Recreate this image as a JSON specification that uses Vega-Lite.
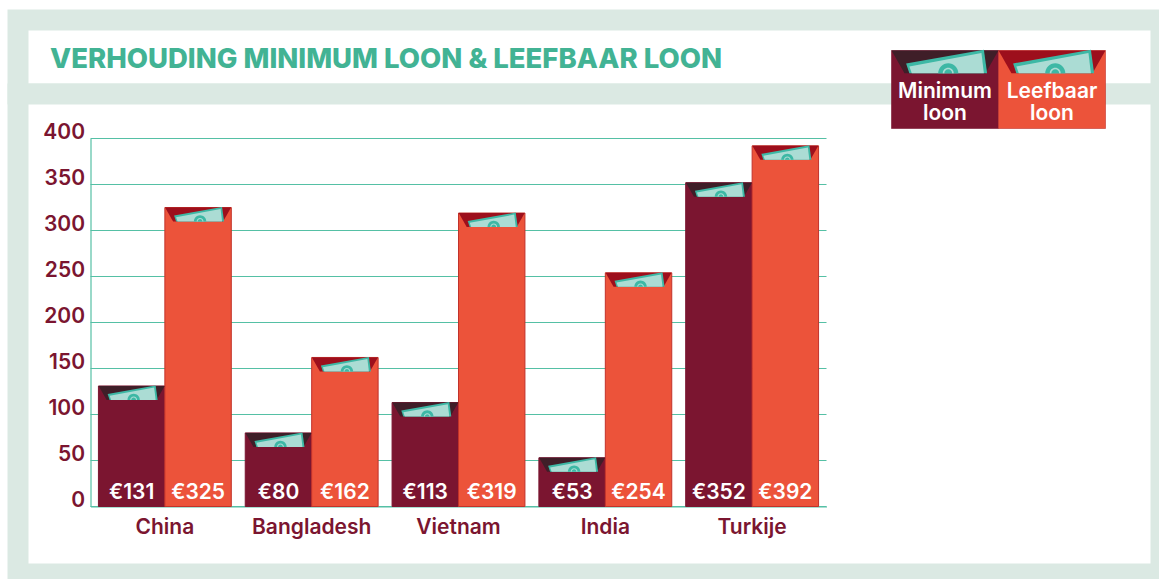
{
"$schema":"https://vega.github.io/schema/vega-lite/v6.json",
"background":"white",
"padding":{"left":7,"top":9,"right":0,"bottom":0},
"bounds":"flush",
"spacing":0,
"config":{"font":"Inter","axis":{"labelFont":"Inter"}},
"datasets":{
 "bars":[
  {"country":"China","series":"Minimum loon","value":131,"label":"€131"},
  {"country":"China","series":"Leefbaar loon","value":325,"label":"€325"},
  {"country":"Bangladesh","series":"Minimum loon","value":80,"label":"€80"},
  {"country":"Bangladesh","series":"Leefbaar loon","value":162,"label":"€162"},
  {"country":"Vietnam","series":"Minimum loon","value":113,"label":"€113"},
  {"country":"Vietnam","series":"Leefbaar loon","value":319,"label":"€319"},
  {"country":"India","series":"Minimum loon","value":53,"label":"€53"},
  {"country":"India","series":"Leefbaar loon","value":254,"label":"€254"},
  {"country":"Turkije","series":"Minimum loon","value":352,"label":"€352"},
  {"country":"Turkije","series":"Leefbaar loon","value":392,"label":"€392"}
 ],
 "grid":[{"tick":0},{"tick":50},{"tick":100},{"tick":150},{"tick":200},{"tick":250},{"tick":300},{"tick":350},{"tick":400}],
 "legend":[{"series":"Minimum loon","text":"Minimum\nloon"},{"series":"Leefbaar loon","text":"Leefbaar\nloon"}]
},
"vconcat":[
 {
  "width":1143,"height":74,
  "view":{"stroke":"#dbe9e3","strokeWidth":21,"fill":"white"},
  "data":{"values":[{"title":"VERHOUDING MINIMUM LOON & LEEFBAAR LOON"}]},
  "mark":{"type":"text","align":"left","baseline":"middle","font":"Inter","fontWeight":800,"fontSize":27.5,"color":"#42b394","dy":3},
  "encoding":{
   "x":{"datum":0,"scale":{"domain":[0,1],"range":[32,1143]},"axis":null},
   "text":{"field":"title"}
  }
 },
 {
  "width":1143,"height":480,
  "view":{"stroke":"#dbe9e3","strokeWidth":21,"fill":"white"},
  "resolve":{"scale":{"x":"independent","y":"independent"},"axis":{"x":"independent","y":"independent"}},
  "layer":[
   {
    "resolve":{"scale":{"x":"independent"},"axis":{"x":"independent"}},
    "layer":[
     {
      "data":{"name":"grid"},
      "mark":{"type":"rule","color":"#55c0a5","strokeWidth":1.2},
      "encoding":{
       "x":{"datum":0,"scale":{"domain":[0,1],"range":[72.5,808.5]},"axis":null},
       "x2":{"datum":1},
       "y":{"field":"tick","type":"quantitative","scale":{"domain":[0,400],"range":[412.5,44.5]},
        "axis":{"title":null,"values":[0,50,100,150,200,250,300,350,400],"offset":-72.5,"grid":false,"ticks":false,"domainColor":"#55c0a5","domainWidth":1.2,"labelColor":"#7b1530","labelFontSize":21,"labelFontWeight":600,"labelPadding":6,"labelOffset":-6}}
      }
     },
     {
      "data":{"name":"bars"},
      "encoding":{
       "x":{"field":"country","type":"nominal","sort":null,"scale":{"domain":["China","Bangladesh","Vietnam","India","Turkije"],"range":[72.5,808.5],"paddingInner":0.095,"paddingOuter":0.054},
        "axis":{"title":null,"orient":"bottom","offset":-67.5,"ticks":false,"labelAngle":0,"domainColor":"#55c0a5","domainWidth":1.2,"labelColor":"#7b1530","labelFontSize":21,"labelFontWeight":600,"labelPadding":10}},
       "xOffset":{"field":"series","type":"nominal","sort":null,"scale":{"domain":["Minimum loon","Leefbaar loon"],"padding":0}},
       "y":{"field":"value","type":"quantitative"}
      },
      "layer":[
       {"mark":{"type":"bar"},"encoding":{
         "fill":{"field":"series","type":"nominal","legend":null,"scale":{"domain":["Minimum loon","Leefbaar loon"],"range":["#7b1530","#ec533a"]}},
         "stroke":{"field":"series","type":"nominal","legend":null,"scale":{"domain":["Minimum loon","Leefbaar loon"],"range":["#7b1530","#c2322a"]}}
       }},
       {"mark":{"type":"point","filled":true,"opacity":1,"size":4,"strokeWidth":0,"shape":"M-33 0L33 0L25 14L-25 14Z"},"encoding":{
         "color":{"field":"series","type":"nominal","legend":null,"scale":{"domain":["Minimum loon","Leefbaar loon"],"range":["#3f1e28","#9d0f1c"]}}
       }},
       {"mark":{"type":"point","filled":true,"opacity":1,"size":4,"strokeWidth":0,"color":"#3db8a5","shape":"M-24 8L24 -0.5L26 14L-22 14Z"}},
       {"mark":{"type":"point","filled":true,"opacity":1,"size":4,"strokeWidth":0,"color":"#abdcd4","shape":"M-22 9.8L22.5 1.6L24 14L-20.5 14Z"}},
       {"mark":{"type":"point","filled":true,"opacity":1,"size":4,"strokeWidth":0,"color":"#3db8a5","shape":"M-4.2 14A6.2 6.2 0 0 1 8.2 14Z"}},
       {"mark":{"type":"point","filled":true,"opacity":1,"size":4,"strokeWidth":0,"color":"#abdcd4","shape":"M-1.4 14A3.4 3.4 0 0 1 5.4 14L4.4 14A2.4 2.4 0 0 0 -0.4 14Z"}},
       {"mark":{"type":"text","color":"white","fontSize":21,"fontWeight":600,"baseline":"middle","font":"Inter","dy":-14},"encoding":{
         "y":{"datum":0},
         "text":{"field":"label"}
       }}
      ]
     }
    ]
   },
   {
    "data":{"name":"legend"},
    "encoding":{
     "x":{"field":"series","type":"nominal","sort":null,"axis":null,"scale":{"domain":["Minimum loon","Leefbaar loon"],"range":[873.5,1087.5],"paddingInner":0,"paddingOuter":0}}
    },
    "layer":[
     {"mark":{"type":"bar","strokeWidth":0.6},"encoding":{
       "y":{"datum":1,"scale":{"domain":[0,1],"range":[34.5,-43.5]},"axis":null},
       "y2":{"datum":0},
       "fill":{"field":"series","type":"nominal","legend":null},
       "stroke":{"field":"series","type":"nominal","legend":null}
     }},
     {"mark":{"type":"point","filled":true,"opacity":1,"size":10.5,"strokeWidth":0,"shape":"M-33 0L33 0L25 14L-25 14Z"},"encoding":{
       "y":{"datum":1},
       "color":{"field":"series","type":"nominal","legend":null}
     }},
     {"mark":{"type":"point","filled":true,"opacity":1,"size":10.5,"strokeWidth":0,"color":"#3db8a5","shape":"M-24 8L24 -0.5L26 14L-22 14Z"},"encoding":{"y":{"datum":1}}},
     {"mark":{"type":"point","filled":true,"opacity":1,"size":10.5,"strokeWidth":0,"color":"#abdcd4","shape":"M-22 9.8L22.5 1.6L24 14L-20.5 14Z"},"encoding":{"y":{"datum":1}}},
     {"mark":{"type":"point","filled":true,"opacity":1,"size":10.5,"strokeWidth":0,"color":"#3db8a5","shape":"M-4.2 14A6.2 6.2 0 0 1 8.2 14Z"},"encoding":{"y":{"datum":1}}},
     {"mark":{"type":"point","filled":true,"opacity":1,"size":10.5,"strokeWidth":0,"color":"#abdcd4","shape":"M-1.4 14A3.4 3.4 0 0 1 5.4 14L4.4 14A2.4 2.4 0 0 0 -0.4 14Z"},"encoding":{"y":{"datum":1}}},
     {"mark":{"type":"text","color":"white","fontSize":21,"fontWeight":600,"font":"Inter","baseline":"middle","lineBreak":"\n","lineHeight":22},"encoding":{
       "y":{"datum":0.474},
       "text":{"field":"text"}
     }}
    ]
   }
  ]
 }
]
}
